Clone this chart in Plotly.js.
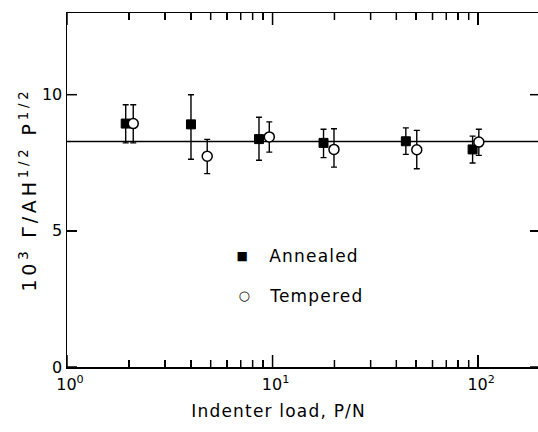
<!DOCTYPE html>
<html>
<head>
<meta charset="utf-8">
<script src="https://cdn.plot.ly/plotly-3.0.1.min.js"></script>
<style>
html,body{margin:0;padding:0;overflow:hidden;background:#fff;}
#chart{width:542px;height:432px;}
#chart g.annotation text{letter-spacing:1.2px;}
#chart g.annotation[data-index="1"] text{letter-spacing:3.8px;}
</style>
</head>
<body>
<div id="chart"></div>
<script>
// Annealed
const annealedLoad = [1.93, 4.01, 8.59, 17.7, 44.5, 94];
const annealedVal  = [8.94, 8.91, 8.37, 8.23, 8.29, 7.99];
const annealedHi   = [9.63, 10.0, 9.17, 8.73, 8.78, 8.48];
const annealedLo   = [8.23, 7.63, 7.59, 7.69, 7.81, 7.49];
// Tempered
const temperedLoad = [2.10, 4.81, 9.64, 19.9, 50.3, 100.8];
const temperedVal  = [8.94, 7.74, 8.45, 7.99, 7.98, 8.26];
const temperedHi   = [9.63, 8.36, 9.00, 8.75, 8.69, 8.73];
const temperedLo   = [8.23, 7.10, 7.89, 7.34, 7.28, 7.77];
// mean line
const meanValue = 8.28;
const xTickVals = [1, 10, 100];
const xTickText = ['10<sup>0</sup>', '10<sup>1</sup>', '10<sup>2</sup>'];
const xMinorVals = [2,3,4,5,6,7,8,9,20,30,40,50,60,70,80,90,200];
const yTickVals = [0, 5, 10];
const seriesNames = ['Annealed', 'Tempered'];

const up = (hi, v) => hi.map((h, i) => h - v[i]);
const dn = (lo, v) => lo.map((l, i) => v[i] - l);

const errStyle = {type:'data', symmetric:false, color:'#000', thickness:1.4, width:3};

const traces = [
  {
    x: annealedLoad, y: annealedVal, type:'scatter', mode:'markers', name:seriesNames[0],
    marker:{symbol:'square', size:9, color:'#000', line:{color:'#000', width:1}},
    error_y: Object.assign({array: up(annealedHi, annealedVal), arrayminus: dn(annealedLo, annealedVal)}, errStyle)
  },
  {
    x: temperedLoad, y: temperedVal, type:'scatter', mode:'markers', name:seriesNames[1],
    marker:{symbol:'circle', size:10, color:'#fff', line:{color:'#000', width:1.5}},
    error_y: Object.assign({array: up(temperedHi, temperedVal), arrayminus: dn(temperedLo, temperedVal)}, errStyle)
  }
];

const font = {family:'DejaVu Sans, sans-serif', color:'#000'};
const W = 542, H = 432, M = {l:67, r:2, t:13, b:65};
const plotW = W - M.l - M.r, plotH = H - M.t - M.b;

// tick marks as short lines at the tick values (inside, mirrored on all sides)
const tickLine = {color:'#000', width:1.5};
const tickShapes = [];
function xTick(v, len){
  const f = len / plotH;
  tickShapes.push({type:'line', xref:'x', x0:v, x1:v, yref:'paper', y0:0, y1:f, line:tickLine});
  tickShapes.push({type:'line', xref:'x', x0:v, x1:v, yref:'paper', y0:1, y1:1 - f, line:tickLine});
}
xTickVals.forEach(v => xTick(v, 12));
xMinorVals.forEach(v => xTick(v, 7));
yTickVals.forEach(v => {
  const f = 10 / plotW;
  tickShapes.push({type:'line', yref:'y', y0:v, y1:v, xref:'paper', x0:0, x1:f, line:tickLine});
  tickShapes.push({type:'line', yref:'y', y0:v, y1:v, xref:'paper', x0:1, x1:1 - f, line:tickLine});
});

const layout = {
  width:W, height:H,
  margin:M,
  font: Object.assign({size:15}, font),
  showlegend:false,
  xaxis:{
    type:'log', range:[0, Math.log10(200)],
    tickmode:'array', tickvals:xTickVals, ticktext:xTickText,
    ticks:'inside', ticklen:12, tickwidth:1.5, tickcolor:'#000',
    minor:{tickmode:'array', tickvals:xMinorVals, ticks:'inside', ticklen:7, tickwidth:1.5, tickcolor:'#000'},
    showline:true, linecolor:'#000', linewidth:1.5, mirror:'ticks',
    showgrid:false, zeroline:false,
    ticklabelshift:3, ticklabelstandoff:2,
    tickfont: Object.assign({size:16}, font)
  },
  yaxis:{
    range:[0, 13],
    tickmode:'array', tickvals:yTickVals,
    ticks:'inside', ticklen:10, tickwidth:1.5, tickcolor:'#000',
    showline:true, linecolor:'#000', linewidth:1.5, mirror:'ticks',
    showgrid:false, zeroline:false,
    tickfont: Object.assign({size:16}, font)
  },
  shapes:[
    {type:'line', xref:'paper', x0:0, x1:1, yref:'y', y0:meanValue, y1:meanValue,
     line:{color:'#000', width:1.6}, layer:'between'}
  ].concat(tickShapes),
  annotations:[
    {text:'Indenter load, P/N', xref:'paper', yref:'paper', x:0.448, y:-0.125,
     xanchor:'center', yanchor:'middle', showarrow:false, font: Object.assign({size:17}, font)},
    {text:'10<sup>3</sup> Γ/AH<sup>1/2</sup> P<sup>1/2</sup>', xref:'paper', yref:'paper', x:-0.082, y:0.5,
     xanchor:'center', yanchor:'middle', textangle:-90, showarrow:false, font: Object.assign({size:19}, font)},
    // legend key
    {text:'■', xref:'paper', yref:'paper', x:0.372, y:0.3136, xanchor:'center', yanchor:'middle', showarrow:false, font: Object.assign({size:12}, font)},
    {text:seriesNames[0], xref:'paper', yref:'paper', x:0.433, y:0.3136, xanchor:'left', yanchor:'middle', showarrow:false, font: Object.assign({size:17}, font)},
    {text:'○', xref:'paper', yref:'paper', x:0.376, y:0.2006, xanchor:'center', yanchor:'middle', showarrow:false, font: Object.assign({size:13}, font)},
    {text:seriesNames[1], xref:'paper', yref:'paper', x:0.433, y:0.2006, xanchor:'left', yanchor:'middle', showarrow:false, font: Object.assign({size:17}, font)}
  ]
};

Plotly.newPlot('chart', traces, layout, {displayModeBar:false, staticPlot:true});
</script>
</body>
</html>
